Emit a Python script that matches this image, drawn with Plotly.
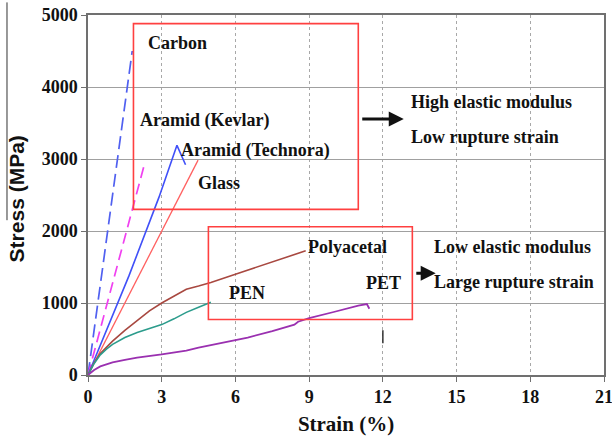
import plotly.graph_objects as go

# ---- data (strain %, stress MPa) ----
carbon_x = [0, 1.8]
carbon_y = [0, 4500]

kevlar_x = [0, 2.28, 2.4]
kevlar_y = [0, 2905, 2915]

technora_x = [0, 1.67, 2.89, 3.62, 3.97]
technora_y = [0, 1380, 2470, 3190, 2920]

glass_x = [0, 4.48]
glass_y = [0, 2985]

polyacetal_x = [0, 0.25, 0.5, 1.0, 1.5, 2.0, 2.5, 3.0, 3.5, 4.0, 4.5, 5.0, 6.0, 7.0, 8.0, 8.86]
polyacetal_y = [0, 170, 300, 470, 620, 760, 890, 1000, 1100, 1190, 1235, 1285, 1400, 1510, 1620, 1725]

pen_x = [0, 0.25, 0.5, 0.75, 1.0, 1.5, 2.0, 2.5, 3.0, 3.5, 4.0, 4.5, 5.0]
pen_y = [0, 160, 280, 360, 425, 520, 590, 640, 700, 780, 870, 940, 1010]

pet_x = [0, 0.25, 0.5, 1.0, 1.5, 2.0, 3.0, 4.0, 4.5, 5.5, 6.5, 7.5, 8.4, 8.55, 9.0, 10.0, 11.0, 11.35, 11.45]
pet_y = [0, 70, 120, 175, 210, 240, 285, 340, 380, 450, 520, 610, 700, 740, 790, 875, 965, 985, 920]

mark_x = [12.0, 12.0]
mark_y = [440, 620]

x_ticks = [0, 3, 6, 9, 12, 15, 18, 21]
y_ticks = [0, 1000, 2000, 3000, 4000, 5000]

curve_labels = [
    ("Carbon", 2.36, 4612),
    ("Aramid (Kevlar)", 2.05, 3532),
    ("Aramid (Technora)", 3.7, 3116),
    ("Glass", 4.4, 2673),
    ("Polyacetal", 8.88, 1780),
    ("PEN", 5.67, 1145),
    ("PET", 11.24, 1274),
    ("High elastic modulus", 13.05, 3795),
    ("Low rupture strain", 13.05, 3310),
    ("Low elastic modulus", 14.0, 1773),
    ("Large rupture strain", 14.0, 1288),
]

box_high = (1.85, 11.0, 2300, 4880)
box_low = (4.9, 13.2, 770, 2060)
arrow_high = (11.1, 12.85, 3555)
arrow_low = (13.3, 14.15, 1412)

SERIF = "Liberation Serif"

fig = go.Figure()

def add_line(x, y, color, dash="solid", width=1.5):
    fig.add_trace(go.Scatter(x=x, y=y, mode="lines",
                             line=dict(color=color, dash=dash, width=width),
                             showlegend=False, hoverinfo="skip"))

add_line(carbon_x, carbon_y, "#5060f0", dash="13px,6px", width=1.7)
add_line(kevlar_x, kevlar_y, "#f040f0", dash="11px,6px", width=1.7)
add_line(technora_x, technora_y, "#4050f8", width=1.6)
add_line(glass_x, glass_y, "#ff6060", width=1.3)
add_line(polyacetal_x, polyacetal_y, "#a84840", width=1.6)
add_line(pen_x, pen_y, "#2c9c8c", width=1.6)
add_line(pet_x, pet_y, "#9a30b0", width=1.8)
add_line(mark_x, mark_y, "#333333", width=1.5)

for (x0, x1, y0, y1) in [box_high, box_low]:
    fig.add_shape(type="rect", xref="x", yref="y", x0=x0, x1=x1, y0=y0, y1=y1,
                  line=dict(color="#ff4040", width=1.6))

for (xa, xb, yy) in [arrow_high, arrow_low]:
    fig.add_annotation(x=xb, y=yy, ax=xa, ay=yy, xref="x", yref="y",
                       axref="x", ayref="y", text="", showarrow=True,
                       arrowhead=2, arrowsize=1, arrowwidth=3, arrowcolor="#111111")

for (txt, xx, yy) in curve_labels:
    fig.add_annotation(x=xx, y=yy, xref="x", yref="y", text="<b>%s</b>" % txt,
                       showarrow=False, xanchor="left", yanchor="middle",
                       font=dict(family=SERIF, size=18, color="#111111"))

# y-axis title
fig.add_annotation(x=-0.138, y=0.49, xref="paper", yref="paper",
                   text="<b>Stress (MPa)</b>", textangle=-90, showarrow=False,
                   xanchor="center", yanchor="middle",
                   font=dict(family="Liberation Sans", size=21, color="#111111"))
# stray line at left
fig.add_shape(type="line", xref="paper", yref="paper", x0=-0.157, x1=-0.157,
              y0=0.43, y1=1.035, line=dict(color="#333333", width=1))

fig.update_layout(
    width=612, height=441,
    margin=dict(l=88, r=8, t=15, b=66, autoexpand=False),
    paper_bgcolor="white", plot_bgcolor="white",
    showlegend=False,
)
fig.update_xaxes(range=[0, 21], tickvals=x_ticks, ticktext=["<b>%d</b>" % v for v in x_ticks],
                 automargin=False, ticklabeloverflow="allow",
                 showgrid=True, gridcolor="#a8a8a8", gridwidth=1, griddash="dot",
                 showline=True, linecolor="#707070", linewidth=1.5, mirror=True,
                 ticks="outside", ticklen=5, tickcolor="#707070", zeroline=False,
                 tickfont=dict(family=SERIF, size=18, color="#111111"),
                 title=dict(text="<b>Strain (%)</b>", standoff=10,
                            font=dict(family=SERIF, size=21, color="#111111")))
fig.update_yaxes(range=[0, 5000], tickvals=y_ticks, ticktext=["<b>%d</b>" % v for v in y_ticks],
                 automargin=False,
                 showgrid=True, gridcolor="#a0a0a0", gridwidth=1,
                 showline=True, linecolor="#707070", linewidth=1.5, mirror=True,
                 ticks="outside", ticklen=5, tickcolor="#707070", zeroline=False,
                 tickfont=dict(family=SERIF, size=18, color="#111111"))

fig.write_html("out.html", config={"displayModeBar": False},
               post_script="document.body.style.margin='0px';document.body.style.overflow='hidden';")
